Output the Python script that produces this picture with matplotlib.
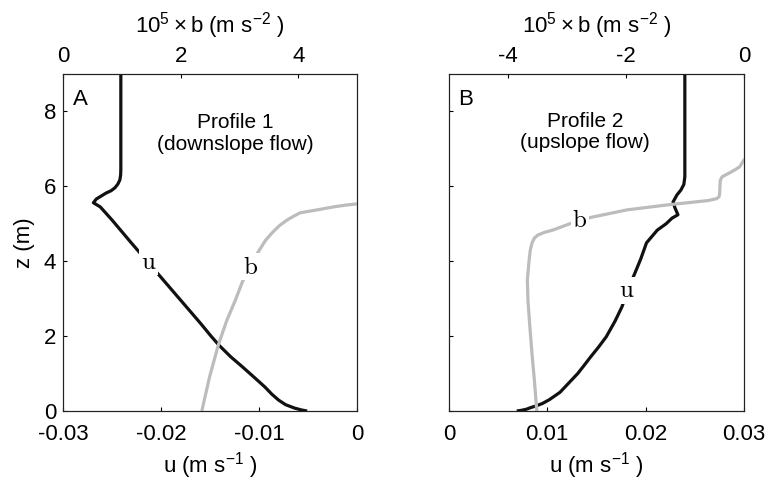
import matplotlib
matplotlib.use("Agg")
import matplotlib.pyplot as plt

plt.rcParams['font.family'] = ['Liberation Sans', 'DejaVu Sans']
plt.rcParams['mathtext.fontset'] = 'cm'
plt.rcParams['mathtext.default'] = 'regular'
plt.rcParams['axes.unicode_minus'] = False

# Profile 1 (downslope flow)
z_u1 = [9.0, 6.45, 6.30, 6.17, 6.06, 5.96, 5.88, 5.82, 5.74, 5.66, 5.56, 5.45,
        5.10, 4.51, 3.69, 2.35, 2.00, 1.76, 1.45, 1.18, 0.90, 0.64, 0.45, 0.29,
        0.17, 0.08, 0.03, 0.0]
u1 = [-0.0241, -0.0241, -0.02412, -0.0242, -0.0244, -0.0247, -0.0251, -0.0256,
      -0.0261, -0.0266, -0.0269, -0.0262, -0.0250, -0.0231, -0.0204, -0.0160,
      -0.0149, -0.0141, -0.0129, -0.0117, -0.0105, -0.0094, -0.0087, -0.0080,
      -0.0073, -0.0064, -0.0057, -0.0051]
z_b1 = [0.0, 0.9, 1.76, 2.4, 2.96, 3.45, 3.87, 4.25, 4.55, 4.75, 4.95, 5.10,
        5.20, 5.29, 5.33, 5.37, 5.45, 5.50, 5.53, 5.57]
b1 = [2.36, 2.49, 2.64, 2.78, 2.93, 3.05, 3.18, 3.32, 3.44, 3.55, 3.68, 3.81,
      3.92, 4.03, 4.17, 4.32, 4.60, 4.82, 5.00, 5.30]

# Profile 2 (upslope flow)
z_u2 = [9.0, 6.25, 6.05, 5.90, 5.77, 5.58, 5.42, 5.24, 5.15, 5.00, 4.83, 4.49,
        4.05, 3.67, 3.23, 2.78, 2.40, 1.98, 1.70, 1.44, 1.20, 1.00, 0.75, 0.50,
        0.30, 0.20, 0.14, 0.09, 0.05, 0.02, 0.0]
u2 = [0.0240, 0.0240, 0.0239, 0.0236, 0.0232, 0.0228, 0.0230, 0.0233, 0.0227,
      0.0221, 0.0212, 0.0201, 0.0195, 0.0189, 0.0182, 0.0176, 0.0169, 0.0160,
      0.0152, 0.0144, 0.0137, 0.0131, 0.0122, 0.0113, 0.0102, 0.0095, 0.0089,
      0.0083, 0.0079, 0.0074, 0.0069]
z_b2 = [0.0, 0.8, 1.5, 2.3, 2.96, 3.5, 4.03, 4.30, 4.49, 4.62, 4.70, 4.77,
        4.83, 4.90, 4.97, 5.10, 5.18, 5.37, 5.50, 5.62, 5.67, 5.72, 5.80, 6.15,
        6.25, 6.31, 6.36, 6.45, 6.52, 6.70, 6.90]
b2 = [-3.51, -3.55, -3.59, -3.63, -3.66, -3.67, -3.64, -3.62, -3.59, -3.55,
      -3.49, -3.38, -3.24, -3.12, -3.00, -2.78, -2.56, -1.98, -1.31, -0.60,
      -0.46, -0.42, -0.41, -0.40, -0.37, -0.30, -0.24, -0.14, -0.07, 0.0, 0.2]

u_ticks1 = [-0.03, -0.02, -0.01, 0]
u_labels1 = ['-0.03', '-0.02', '-0.01', '0']
u_ticks2 = [0, 0.01, 0.02, 0.03]
u_labels2 = ['0', '0.01', '0.02', '0.03']
b_ticks1 = [0, 2, 4]
b_labels1 = ['0', '2', '4']
b_ticks2 = [-4, -2, 0]
b_labels2 = ['-4', '-2', '0']
z_ticks = [0, 2, 4, 6, 8]

panels = [
    dict(rect=[0.0818, 0.149, 0.382, 0.698], u=u1, zu=z_u1, b=b1, zb=z_b1,
         ulim=(-0.03, 0), blim=(0, 5), ut=u_ticks1, ul=u_labels1,
         bt=b_ticks1, bl=b_labels1, letter='A',
         title='Profile 1\n(downslope flow)', tx=0.585, ty=0.823,
         ulab=(-0.0213, 3.98), blab=(3.18, 3.85), ylab=True),
    dict(rect=[0.583, 0.149, 0.383, 0.698], u=u2, zu=z_u2, b=b2, zb=z_b2,
         ulim=(0, 0.03), blim=(-5, 0), ut=u_ticks2, ul=u_labels2,
         bt=b_ticks2, bl=b_labels2, letter='B',
         title='Profile 2\n(upslope flow)', tx=0.461, ty=0.828,
         ulab=(0.0181, 3.23), blab=(-2.78, 5.10), ylab=False),
]

fig = plt.figure(figsize=(7.7, 4.83), dpi=100)
fs = 16
gray = '#bcbcbc'

for p in panels:
    ax = fig.add_axes(p['rect'])
    axb = ax.twiny()

    ax.plot(p['u'], p['zu'], color='#111111', lw=2.3, solid_capstyle='butt',
            solid_joinstyle='round')
    axb.plot(p['b'], p['zb'], color=gray, lw=2.3, solid_capstyle='butt',
             solid_joinstyle='round')

    ax.set_xlim(*p['ulim'])
    axb.set_xlim(*p['blim'])
    ax.set_ylim(0, 9)

    ax.set_xticks(p['ut'])
    ax.set_xticklabels(p['ul'])
    axb.set_xticks(p['bt'])
    axb.set_xticklabels(p['bl'])
    ax.set_yticks(z_ticks)
    if p['ylab']:
        ax.set_ylabel('z (m)', fontsize=fs, labelpad=6)
    else:
        ax.set_yticklabels([])

    ax.tick_params(axis='x', direction='in', length=3, width=0.8,
                   labelsize=fs, pad=9)
    ax.tick_params(axis='y', direction='in', length=3, width=0.8,
                   labelsize=fs, pad=5)
    axb.tick_params(axis='x', direction='in', length=3, width=0.8,
                    labelsize=fs, pad=5)
    for a in (ax, axb):
        for s in a.spines.values():
            s.set_linewidth(0.8)
            s.set_color('#222222')

    ax.set_xlabel('u (m s$^{-1}$ )', fontsize=fs, labelpad=4)
    axb.set_xlabel('10$^5\\times$b (m s$^{-2}$ )', fontsize=fs, labelpad=10)

    ax.text(0.058, 0.923, p['letter'], transform=ax.transAxes, fontsize=fs,
            ha='center', va='center')
    ax.text(p['tx'], p['ty'], p['title'], transform=ax.transAxes, fontsize=fs - 1,
            ha='center', va='center', linespacing=1.15)

    box = dict(facecolor='white', edgecolor='none', pad=1.0)
    axb.text(p['ulab'][0], p['ulab'][1], r'$\mathrm{u}$', transform=ax.transData,
             fontsize=fs + 2, ha='center', va='center', bbox=box)
    axb.text(p['blab'][0], p['blab'][1], r'$\mathrm{b}$', fontsize=fs + 2,
             ha='center', va='center', bbox=box)

fig.savefig('out.png', dpi=100)
